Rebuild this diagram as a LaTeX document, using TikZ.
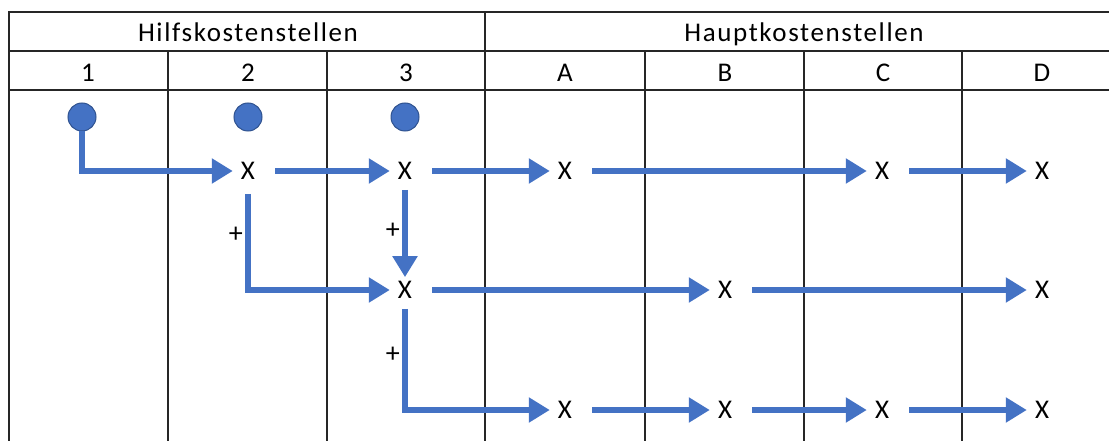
\documentclass[tikz,border=0pt]{standalone}
\usepackage{fontspec}
\setmainfont{Carlito}
\newfontfamily\headfont[LetterSpace=6]{Carlito}
\usetikzlibrary{arrows.meta}
\definecolor{flowblue}{RGB}{68,114,196}
\definecolor{ringblue}{RGB}{47,82,143}

\begin{document}
\begin{tikzpicture}[x=1pt, y=-1pt,
    tabline/.style={line width=1.8pt, black!85},
    head/.style={font=\headfont\fontsize{27}{30}\selectfont, inner sep=0pt, anchor=base},
    cross/.style={font=\fontsize{27}{30}\selectfont, inner sep=0pt},
    srcdot/.style={circle, fill=flowblue, draw=ringblue, line width=1pt,
        minimum size=28pt, inner sep=0pt},
    flow/.style={line width=6.5pt, flowblue, -{Triangle[length=21pt,width=24pt]},
        shorten <=20pt, shorten >=8pt},
    sign/.style={font=\fontsize{28}{30}\selectfont, inner sep=0pt, black}]

    \useasboundingbox (0,0) rectangle (1109,441);

    % table
    \draw[tabline] (9,441) -- (9,12) -- (1109,12);
    \draw[tabline] (9,51) -- (1109,51);
    \draw[tabline] (9,90) -- (1109,90);
    \draw[tabline] (485,12) -- (485,441);
    \foreach \x in {168,327,645,804,962}
        \draw[tabline] (\x,51) -- (\x,441);

    \node[head] (hilf) at (248,42) {Hilfskostenstellen};
    \node[head] (haupt) at (804,42) {Hauptkostenstellen};
    \foreach \t/\x in {1/88,2/248,3/406,A/565,B/725,C/883,D/1042}
        \node[head] (h\t) at (\x,82) {\t};

    % sources
    \node[srcdot] (p1) at (82,117) {};
    \node[srcdot] (p2) at (248,117) {};
    \node[srcdot] (p3) at (405,117) {};

    % allocations
    \node[cross] (a2) at (248,171) {X};
    \node[cross] (a3) at (405,171) {X};
    \node[cross] (aA) at (565,171) {X};
    \node[cross] (aC) at (882,171) {X};
    \node[cross] (aD) at (1042,171) {X};
    \node[cross] (b3) at (405,290) {X};
    \node[cross] (bB) at (725,290) {X};
    \node[cross] (bD) at (1042,290) {X};
    \node[cross] (cA) at (565,410) {X};
    \node[cross] (cB) at (725,410) {X};
    \node[cross] (cC) at (882,410) {X};
    \node[cross] (cD) at (1042,410) {X};

    \draw[flow, shorten <=0pt] (p1.south) |- (a2);
    \draw[flow] (a2) -- (a3);
    \draw[flow] (a3) -- (aA);
    \draw[flow] (aA) -- (aC);
    \draw[flow] (aC) -- (aD);
    \draw[flow] (b3) -- (bB);
    \draw[flow] (bB) -- (bD);
    \draw[flow] (cA) -- (cB);
    \draw[flow] (cB) -- (cC);
    \draw[flow] (cC) -- (cD);

    \draw[flow, shorten <=14pt] (a2) |- node[sign, pos=0.25, left=2pt] (s2) {+} (b3);
    \draw[flow, shorten <=10pt, shorten >=4pt] (a3) -- node[sign, left=2pt] (s3) {+} (b3);
    \draw[flow, shorten <=10pt] (b3) |- node[sign, pos=0.25, left=2pt] (s4) {+} (cA);
\end{tikzpicture}
\end{document}
